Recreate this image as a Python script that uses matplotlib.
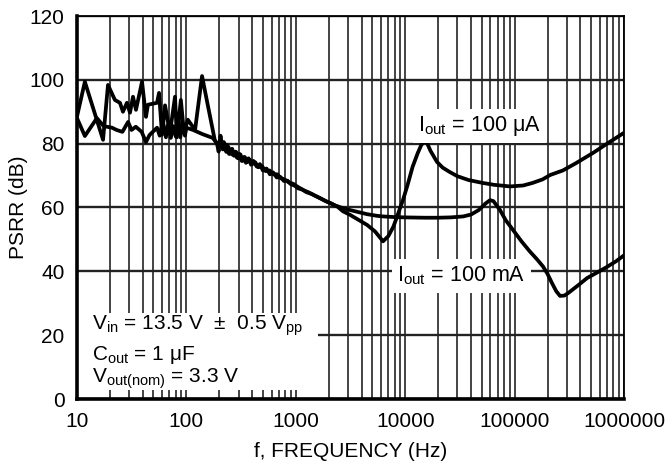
import matplotlib
matplotlib.use('Agg')
import matplotlib.pyplot as plt
from matplotlib.patches import Rectangle
from matplotlib.ticker import LogLocator, NullFormatter

plt.rcParams['font.family'] = ['Liberation Sans', 'DejaVu Sans']
plt.rcParams['mathtext.fontset'] = 'custom'
plt.rcParams['mathtext.rm'] = 'Liberation Sans'
plt.rcParams['mathtext.it'] = 'Liberation Sans:italic'
plt.rcParams['mathtext.bf'] = 'Liberation Sans:bold'

########
# Data #
########

# I_out = 100 uA
freq_ua = [10, 11.8, 15.2, 17.5, 20.9, 23, 26, 29.3, 31.5, 34.5, 39, 42.7, 46, 53.9, 57,
           61, 65, 68, 72, 76, 80, 84, 88, 92, 97, 100, 115, 140, 174,
           190, 197, 205, 212, 220, 228, 236, 245, 255, 265, 278, 290, 305, 320, 335,
           350, 370, 390, 410, 440, 470, 500, 540, 580, 620, 670, 720, 780, 840, 900,
           980, 1050, 1150, 1250, 1400, 1600, 1800, 2000, 2200, 2400,
           2700, 3130, 3800, 4500, 5300, 6270, 7000, 7800, 8600, 9550, 10500, 11700,
           13000, 14000, 14800, 15800, 17000, 19500, 22000, 25300, 30000, 38000, 51000,
           65000, 91000, 120000, 146000, 180000, 212000, 276000, 360000, 521000, 700000,
           1000000]
psrr_ua = [88, 82.4, 88, 85.5, 85, 84.3, 83.7, 86.8, 84.3, 85.3, 83.7, 80.5, 82.7, 85, 82.5,
           87, 82, 86, 81.8, 85.5, 82.2, 87.5, 82, 86.5, 82.5, 85, 84.3, 83, 81.8,
           80.2, 77.5, 82.5, 79, 80.5, 77.8, 79.6, 76.8, 78.2, 76.5, 77.5, 75.6, 76.8, 74.6, 75.8,
           74, 75.4, 73.4, 74.6, 72.8, 73.6, 71.6, 72.2, 70.4, 71, 69.4, 69.6, 68.3, 68.4, 67.3,
           66.8, 66, 65.6, 64.8, 64.2, 63.2, 62.3, 61.6, 60.9, 60.3,
           58.8, 57.7, 56, 54.5, 52.5, 49.4, 51, 54, 58, 62.4, 67, 72.8,
           77, 79.5, 80.6, 80.3, 77.8, 74.3, 72.5, 71.2, 69.8, 68.6, 67.7,
           67.1, 66.6, 66.9, 67.7, 68.8, 70.2, 71.6, 73.8, 77.1, 80,
           83.4]

# I_out = 100 mA
freq_ma = [10, 11.8, 17.3, 19.2, 22.2, 24.7, 26.3, 28.6, 30.5, 32.5, 34.6, 39.3, 42.7, 44.5,
           53.9, 56.2, 59.9, 63.8, 70.7, 78.7, 81.8, 89, 95, 103, 120, 139, 157, 182,
           195, 205, 215, 224, 232, 242, 252, 262, 273, 285, 298, 312, 327, 342, 360,
           380, 400, 425, 455, 490, 530, 575, 625, 675, 730, 790, 860, 950, 1050, 1180,
           1320, 1500, 1700, 1900, 2100, 2300,
           2700, 3130, 3800, 4500, 5500, 6270, 8000, 10000, 15000, 20000, 26000, 33900,
           40000, 47000, 54000, 59600, 64000, 73600, 83000, 96600, 115000, 138000,
           160000, 182000, 200000, 219000, 240000, 260000, 285000, 309000, 380000,
           460000, 580000, 700000, 850000, 1000000]
psrr_ma = [88.5, 99.4, 81.2, 98.4, 93.7, 92.8, 90, 92.8, 89.7, 94.7, 90.6, 99.4, 88.4, 92.2,
           92.8, 95.9, 82.8, 92, 83.4, 94.7, 82, 93.7, 83.4, 87.5, 84.3, 101.2, 92, 81,
           79.5, 81.2, 78.2, 80, 77.4, 79, 76.8, 78.4, 76.2, 77.4, 75.4, 76.6, 74.6, 75.8, 74.2,
           75, 73.6, 74.2, 72.6, 73, 71.4, 71.6, 70.4, 70.4, 69.2, 68.8, 67.9, 67.4, 66.4, 65.4,
           64.7, 63.7, 62.8, 61.9, 61.3, 60.6,
           59.8, 59.2, 58.5, 57.9, 57.4, 57.2, 57, 56.9, 56.8, 56.8, 56.9, 57.2,
           57.8, 59.2, 61.2, 62.3, 62, 59.2, 56, 53, 49.5, 46.2,
           43.8, 41.5, 39.2, 36.4, 33.8, 32.3, 32.4, 33.2, 35.6,
           37.9, 39.8, 41.4, 43.2, 45]

x_ticks = [10, 100, 1000, 10000, 100000, 1000000]
x_tick_labels = ['10', '100', '1000', '10000', '100000', '1000000']
y_ticks = [0, 20, 40, 60, 80, 100, 120]

condition_lines = [r'V$_{\mathrm{in}}$ = 13.5 V  $\pm$  0.5 V$_{\mathrm{pp}}$',
                   r'C$_{\mathrm{out}}$ = 1 μF',
                   r'V$_{\mathrm{out(nom)}}$ = 3.3 V']

########
# Plot #
########

fs = 15
fig = plt.figure(figsize=(6.69, 4.65), dpi=100)
ax = fig.add_axes([77 / 669, 66 / 465, 547 / 669, 383 / 465])

ax.set_xscale('log')
ax.set_xlim(10, 1e6)
ax.set_ylim(0, 120)
ax.set_xticks(x_ticks)
ax.set_xticklabels(x_tick_labels)
ax.xaxis.set_minor_locator(LogLocator(base=10, subs=range(2, 10)))
ax.xaxis.set_minor_formatter(NullFormatter())
ax.set_yticks(y_ticks)
ax.tick_params(which='both', length=0, labelsize=fs, pad=9)

ax.set_axisbelow(True)
ax.grid(which='both', axis='x', color='#111111', lw=1.1)
ax.grid(which='major', axis='y', color='#222222', lw=1.7)

for side in ['left', 'bottom']:
    ax.spines[side].set_linewidth(2.6)
for side in ['top', 'right']:
    ax.spines[side].set_linewidth(1.3)

# white box behind the test conditions
ax.add_patch(Rectangle((10, 2.8), 1590, 24.2, facecolor='white',
                       edgecolor='none', zorder=1))

ax.plot(freq_ua, psrr_ua, color='black', lw=2.7, zorder=3)
ax.plot(freq_ma, psrr_ma, color='black', lw=2.7, zorder=3)

box = dict(boxstyle='square,pad=0.25', facecolor='white', edgecolor='none')
ax.text(13100, 84, r'I$_{\mathrm{out}}$ = 100 μA', fontsize=fs + 0.5, ha='left',
        va='baseline', bbox=box, zorder=4)
ax.text(8400, 36.7, r'I$_{\mathrm{out}}$ = 100 mA', fontsize=fs + 0.5, ha='left',
        va='baseline', bbox=box, zorder=4)

for txt, yb in zip(condition_lines, [21.6, 12.2, 5.0]):
    ax.text(13.7, yb, txt, fontsize=fs, ha='left', va='baseline', zorder=4)

ax.set_xlabel('f, FREQUENCY (Hz)', fontsize=fs, labelpad=8)
ax.set_ylabel('PSRR (dB)', fontsize=fs, labelpad=1)

fig.savefig('out.png', dpi=100)
